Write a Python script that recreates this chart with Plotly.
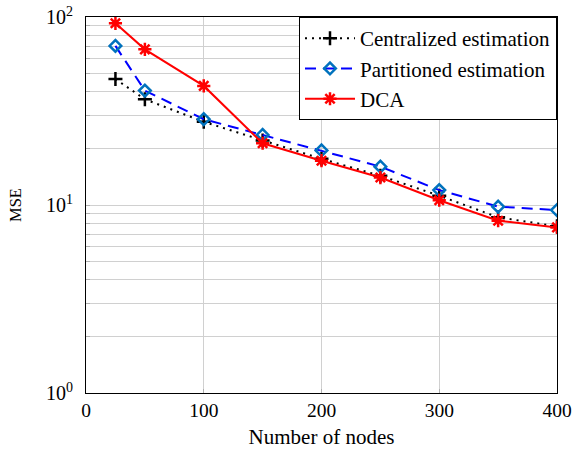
import plotly.graph_objects as go

nodes = [25, 50, 100, 150, 200, 250, 300, 350, 400]
mse_centralized = [46.8, 36.5, 27.7, 22.0, 17.6, 14.3, 11.2, 8.6, 7.7]
mse_partitioned = [70.2, 40.6, 28.6, 23.6, 19.5, 16.0, 12.0, 9.8, 9.4]
mse_dca = [92.6, 67.3, 43.0, 21.3, 17.2, 14.0, 10.6, 8.25, 7.6]

x_ticks = [0, 100, 200, 300, 400]
decades = [1, 10, 100]
decade_labels = ["10<sup>0</sup>", "10<sup>1</sup>", "10<sup>2</sup>"]

y_tickvals, y_ticktext = [], []
for d, lab in zip(decades, decade_labels):
    y_tickvals.append(d)
    y_ticktext.append(lab)
    if d < 100:
        for m in range(2, 10):
            y_tickvals.append(d * m)
            y_ticktext.append("")

FONT = "Liberation Serif"

fig = go.Figure()
fig.add_trace(go.Scatter(
    x=nodes, y=mse_centralized, name="Centralized estimation", mode="lines+markers",
    line=dict(color="black", width=2, dash="2px,5px"),
    marker=dict(symbol="cross-thin", size=10, line=dict(color="black", width=2.5), color="black"),
))
fig.add_trace(go.Scatter(
    x=nodes, y=mse_partitioned, name="Partitioned estimation", mode="lines+markers",
    line=dict(color="blue", width=2, dash="11px,7px"),
    marker=dict(symbol="diamond-open", size=9, line=dict(color="rgb(0,114,189)", width=2.5), color="rgb(0,114,189)"),
))
fig.add_trace(go.Scatter(
    x=nodes, y=mse_dca, name="DCA", mode="lines+markers",
    line=dict(color="red", width=2),
    marker=dict(symbol="asterisk-open", size=11, line=dict(color="red", width=2.5), color="red"),
))

fig.update_layout(
    width=574, height=453,
    margin=dict(l=86, r=17, t=17, b=60, autoexpand=False),
    plot_bgcolor="white", paper_bgcolor="white",
    font=dict(family=FONT, size=19, color="black"),
    showlegend=True,
    legend=dict(x=1, y=1, xanchor="right", yanchor="top",
                bordercolor="black", borderwidth=1, bgcolor="white",
                font=dict(family=FONT, size=21, color="black"), tracegroupgap=0, itemwidth=50),
    xaxis=dict(range=[0, 400], tickvals=x_ticks, showgrid=True, gridcolor="#d0d0d0",
               showline=True, linecolor="black", linewidth=1, mirror=True,
               ticks="inside", ticklen=4, tickcolor="#b0b0b0", automargin=False,
               tickfont=dict(family=FONT, size=19.5, color="black"),
               title=dict(text="Number of nodes", standoff=8, font=dict(family=FONT, size=21, color="black")),
               zeroline=False),
    yaxis=dict(type="log", range=[0, 2], tickvals=y_tickvals, ticktext=y_ticktext,
               showgrid=True, gridcolor="#d0d0d0", automargin=False,
               showline=True, linecolor="black", linewidth=1, mirror=True,
               ticks="inside", ticklen=4, tickcolor="#b0b0b0",
               tickfont=dict(family=FONT, size=20, color="black"), ticklabelstandoff=8,
               title=dict(text="MSE", standoff=20, font=dict(family=FONT, size=16.5, color="black")),
               zeroline=False),
)

fig.write_html("out.html")
